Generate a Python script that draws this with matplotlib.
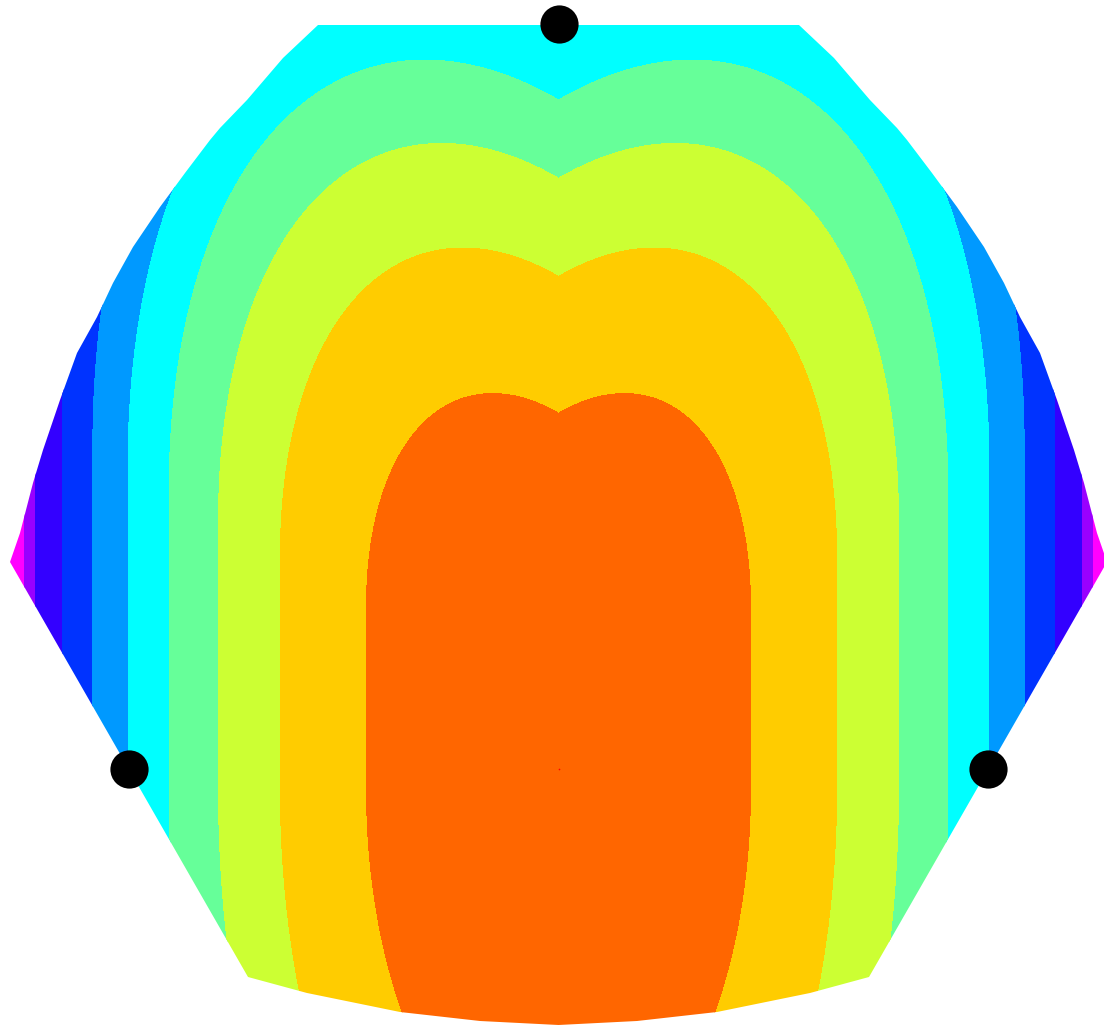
import numpy as np
import matplotlib
matplotlib.use("Agg")
import matplotlib.pyplot as plt
from matplotlib.patches import Polygon

# ---------------- data ----------------
# sensor positions (data units, centre sensor at origin)
sensor_x = [0, -430, 429]
sensor_y = [745, 0, 0]
centre_x = [0]
centre_y = [0]

# contour level boundaries (low -> high) and band colours
level_edges = [-1, 370, 386.5, 420, 453.5, 487, 520.5, 554, 587.5, 621, 700]
band_colors = ['#ff00ff', '#9900ff', '#3300ff', '#0033ff', '#0099ff',
               '#00ffff', '#66ff99', '#ccff33', '#ffcc00', '#ff6600']

# left half of the domain outline (top-centre -> bottom-centre); mirrored for the right
outline_left_x = [-240.5, -275.5, -311.5, -338.5, -348.5, -373.5, -398.5, -425.5,
                  -445.5, -461.5, -481.5, -498.5, -515.5, -525.5, -538.5, -548.5,
                  -310.5, -251.5, -158.5, -78.5, 0]
outline_left_y = [744, 711, 669, 641, 629, 596, 562, 522,
                  486, 452, 416, 369, 319, 286, 236, 207,
                  -208, -224, -243, -252, -256]

# field shape parameters
R_field = 650.0
k_top, y0_top, v_slope = 0.63, 51.0, 0.58
k_bot, y0_bot = 0.5, 20.0

# ---------------- figure ----------------
fig = plt.figure(figsize=(11.04, 10.26), dpi=100)
ax = fig.add_axes([0, 0, 1, 1])
ax.set_xlim(-558.5, 545.5)
ax.set_ylim(-257, 769)
ax.set_aspect('equal')
ax.axis('off')

gx = np.linspace(-560, 548, 1109)
gy = np.linspace(-260, 770, 1031)
X, Y = np.meshgrid(gx, gy)
t_top = k_top * np.clip(Y - y0_top - v_slope * np.abs(X), 0, None)
t_bot = k_bot * np.clip(-Y - y0_bot, 0, None)
r2 = X ** 2 + t_top ** 2 + t_bot ** 2
Z = np.sqrt(np.clip(R_field ** 2 - r2, 0, None))

cs = ax.contourf(X, Y, Z, levels=level_edges, colors=band_colors, antialiased=False)

ox = outline_left_x + [-v for v in outline_left_x[::-1]]
oy = outline_left_y + outline_left_y[::-1]
poly = Polygon(np.column_stack([ox, oy]), closed=True, facecolor='none',
               edgecolor='none', transform=ax.transData)
ax.add_patch(poly)
cs.set_clip_path(poly)

ax.plot(centre_x, centre_y, 'o', color='red', markersize=1.2, markeredgewidth=0)
ax.plot(sensor_x, sensor_y, 'o', color='black', markersize=27.5,
        markeredgewidth=0, clip_on=False)

fig.savefig('out.png', dpi=100)
